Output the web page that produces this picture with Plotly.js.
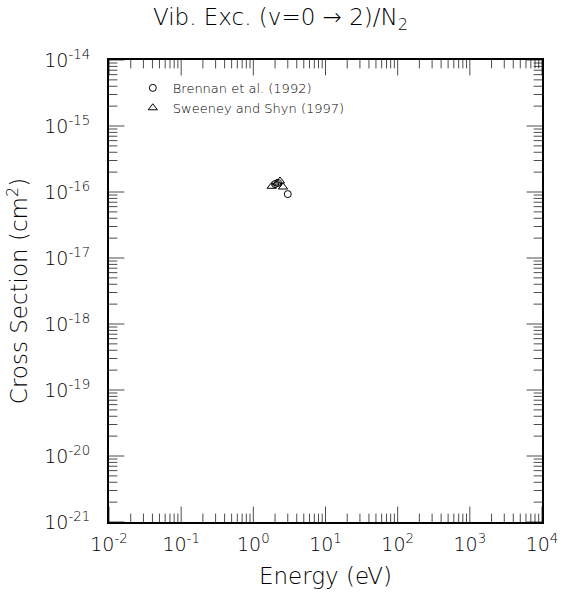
<!DOCTYPE html>
<html>
<head>
<meta charset="utf-8">
<script src="https://cdn.plot.ly/plotly-3.0.1.min.js"></script>
<style>html,body{margin:0;padding:0;background:#fff;}#chart{width:561px;height:600px;}</style>
</head>
<body>
<div id="chart"></div>
<script>
// Brennan et al. (1992) — energy (eV) and cross section (cm^2)
const brennanEnergy = [2.0, 2.2, 3.0];
const brennanCross = [1.32e-16, 1.37e-16, 9.3e-17];
// Sweeney and Shyn (1997)
const sweeneyEnergy = [1.8, 2.13, 2.34, 2.58];
const sweeneyCross = [1.22e-16, 1.37e-16, 1.47e-16, 1.19e-16];

const seriesNames = ['Brennan et al. (1992)', 'Sweeney and Shyn (1997)'];
const titleText = 'Vib. Exc. (v=0 \u2192 2)/N<sub>2</sub>';
const xTitle = 'Energy (eV)';
const yTitle = 'Cross Section (cm<sup>2</sup>)';

// tick labels (decade exponents)
const xTickExp = [-2, -1, 0, 1, 2, 3, 4];
const yTickExp = [-21, -20, -19, -18, -17, -16, -15, -14];

const FONT = 'DejaVu Sans';
const W = 200;
const MAJOR = 11, MINOR = 6;

function decadeTicks(exps) { return exps.map(e => Math.pow(10, e)); }
function decadeText(exps) { return exps.map(e => '10<sup>' + (e < 0 ? '-' : '') + Math.abs(e) + '</sup>'); }
// tick positions as data values (major decades + minor 2..9)
function tickVals(exps) {
  const v = [], s = [];
  for (let i = 0; i < exps.length; i++) {
    v.push(Math.pow(10, exps[i])); s.push(2 * MAJOR);
    if (i < exps.length - 1) for (let m = 2; m <= 9; m++) { v.push(m * Math.pow(10, exps[i])); s.push(2 * MINOR); }
  }
  return {v, s};
}

// inside ticks drawn as line markers centred on the frame, clipped to the plot area
function tickTrace(vals, sizes, fixed, horizontalAxis) {
  const n = vals.length;
  return {
    type: 'scatter', mode: 'markers', showlegend: false, hoverinfo: 'skip', cliponaxis: true,
    x: horizontalAxis ? vals : vals.map(() => fixed),
    y: horizontalAxis ? vals.map(() => fixed) : vals,
    marker: {symbol: horizontalAxis ? 'line-ns-open' : 'line-ew-open', size: sizes,
             color: 'black', line: {width: 1, color: 'black'}}
  };
}
const xt = tickVals(xTickExp), yt = tickVals(yTickExp);
const yMin = Math.pow(10, yTickExp[0]), yMax = Math.pow(10, yTickExp[yTickExp.length - 1]);
const xMin = Math.pow(10, xTickExp[0]), xMax = Math.pow(10, xTickExp[xTickExp.length - 1]);

const traces = [
  {x: brennanEnergy, y: brennanCross, name: seriesNames[0], mode: 'markers', type: 'scatter',
   marker: {symbol: 'circle-open', size: 7, color: 'black', line: {width: 1, color: 'black'}}},
  {x: sweeneyEnergy, y: sweeneyCross, name: seriesNames[1], mode: 'markers', type: 'scatter',
   marker: {symbol: 'triangle-up-open', size: 8, color: 'black', line: {width: 1, color: 'black'}}},
  tickTrace(xt.v, xt.s, yMin, true),
  tickTrace(xt.v, xt.s, yMax, true),
  tickTrace(yt.v, yt.s, xMin, false),
  tickTrace(yt.v, yt.s, xMax, false)
];

function axis(exps) {
  return {
    type: 'log', showgrid: false, zeroline: false,
    showline: true, linecolor: 'black', linewidth: 2, mirror: true,
    ticks: '', tickmode: 'array', tickvals: decadeTicks(exps), ticktext: decadeText(exps),
    range: [exps[0], exps[exps.length - 1]], autorange: false,
    tickfont: {family: FONT, size: 19, color: 'black', weight: W}
  };
}

const titleFont = {family: FONT, size: 23, color: 'black', weight: W};

const layout = {
  width: 561, height: 600,
  margin: {l: 109, r: 19, t: 60, b: 78},
  paper_bgcolor: 'white', plot_bgcolor: 'white',
  font: {family: FONT, color: 'black', weight: W},
  title: {text: titleText, x: 0.5, xref: 'container', xanchor: 'center', y: 0.985, yref: 'container', yanchor: 'top',
          font: titleFont},
  xaxis: Object.assign(axis(xTickExp), {
    ticklabelstandoff: 4,
    title: {text: xTitle, standoff: 14, font: titleFont}
  }),
  yaxis: Object.assign(axis(yTickExp), {
    ticklabelstandoff: 13,
    title: {text: yTitle, standoff: 10, font: titleFont}
  }),
  showlegend: true,
  legend: {x: 0.055, y: 0.972, xanchor: 'left', yanchor: 'top', bgcolor: 'rgba(0,0,0,0)',
           font: {family: FONT, size: 13, color: 'black', weight: W}, tracegroupgap: 0, itemwidth: 30}
};

Plotly.newPlot('chart', traces, layout, {displayModeBar: false, staticPlot: true});
</script>
</body>
</html>
